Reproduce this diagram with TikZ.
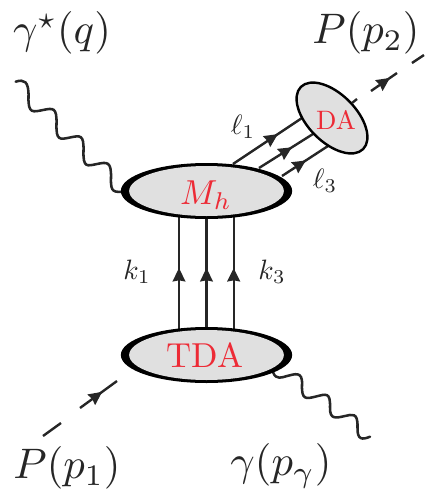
\documentclass[tikz,border=0pt]{standalone}
\usetikzlibrary{shapes.geometric,arrows.meta,decorations.markings}
\definecolor{ink}{HTML}{262626}
\definecolor{blobfill}{HTML}{E0E0E0}
\definecolor{blobtext}{HTML}{ED2B36}
\tikzset{
  line/.style={ink,line width=1.8pt},
  midarrow/.style={line,postaction={decorate},decoration={markings,mark=at position #1 with {\arrow[ink]{Stealth[length=10pt,width=9.5pt,inset=0.8pt]}}}},
  wavy/.style={ink,line width=1.9pt,line cap=round},
  outerblob/.style={ellipse,fill=black,draw=none,minimum width=128.5pt,minimum height=42pt,inner sep=0pt},
  innerblob/.style={ellipse,fill=blobfill,draw=none,minimum width=116pt,minimum height=37.5pt,inner sep=0pt},
  big/.style={ink,scale=3.2,inner sep=0pt},
  small/.style={ink,scale=2.1,inner sep=0pt},
  blobtxt/.style={text=blobtext,scale=2.6,inner sep=0pt}
}
\begin{document}
\begin{tikzpicture}[x=0.75pt,y=-0.75pt]
\useasboundingbox (0,0) rectangle (427,494);
% wavy photons
\coordinate (wa) at (15.7,81.7);
\coordinate (wb) at (370,436.7);
\coordinate (wc) at (124,191.7);
\coordinate (wd) at (273.3,372.7);
\draw[wavy] (wa) .. controls (24,79) and (29,81) .. (28.5,97)
  .. controls (28,114) and (33,112) .. (43,110)
  .. controls (53,108) and (57,107) .. (56.5,124)
  .. controls (56,141) and (60,139.5) .. (70,137.5)
  .. controls (80,135.5) and (84,134) .. (83.5,151)
  .. controls (83,168) and (87,166) .. (97,164)
  .. controls (107,162) and (111.5,161) .. (111,178)
  .. controls (110.5,193) and (114,192) .. (wc);
\draw[wavy] (wd) .. controls (276,380) and (282,377.5) .. (287,376)
  .. controls (294,374.5) and (303,370) .. (302,385)
  .. controls (301.5,400) and (306,399) .. (316,396.5)
  .. controls (326,394) and (330.5,392) .. (330,407)
  .. controls (329.5,420) and (336,418) .. (345,416)
  .. controls (352,414.5) and (358,412) .. (357.5,427)
  .. controls (357,440) and (362,440) .. (wb);
% quark lines (drawn before the blobs)
\coordinate (m1) at (179,200); \coordinate (t1) at (179,340);
\coordinate (m2) at (206.5,200); \coordinate (t2) at (206.5,340);
\coordinate (m3) at (233.7,200); \coordinate (t3) at (233.7,340);
\draw[midarrow=0.514] (t1) -- (m1);
\draw[midarrow=0.514] (t2) -- (m2);
\draw[midarrow=0.514] (t3) -- (m3);
\coordinate (l1a) at (233,164); \coordinate (l1b) at (302,118);
\coordinate (l2a) at (259,168); \coordinate (l2b) at (313,134);
\coordinate (l3a) at (282,176); \coordinate (l3b) at (328,146);
\draw[midarrow=0.65] (l1a) -- (l1b);
\draw[midarrow=0.61] (l2a) -- (l2b);
\draw[midarrow=0.52] (l3a) -- (l3b);
% blobs
\node[outerblob] (mhout) at (206.5,191) {};
\node[innerblob] (mh) at (206.5,191) {};
\node[blobtxt] (mhlabel) at (206,195) {$M_h$};
\node[outerblob] (tdaout) at (206.5,355) {};
\node[innerblob] (tda) at (206.5,355) {};
\node[blobtxt] (tdalabel) at (205,355) {TDA};
\node[ellipse,fill=blobfill,draw=black,line width=1.8pt,minimum width=66pt,minimum height=36pt,inner sep=0pt,rotate=-45] (da) at (332,118) {};
\node[text=blobtext,scale=2.0,inner sep=0pt] (dalabel) at (336,120) {DA};
% meson lines
\coordinate (p2a) at (352,103); \coordinate (p2b) at (357,99);
\coordinate (p2c) at (371,91); \coordinate (p2d) at (397,73);
\coordinate (p2e) at (412,63); \coordinate (p2f) at (424,55);
\draw[line] (p2a) -- (p2b);
\draw[midarrow=0.73] (p2c) -- (p2d);
\draw[line] (p2e) -- (p2f);
\coordinate (p1a) at (43,436); \coordinate (p1b) at (61,423);
\coordinate (p1c) at (80,408); \coordinate (p1d) at (117,381);
\draw[line] (p1a) -- (p1b);
\draw[midarrow=0.6] (p1c) -- (p1d);
% labels
\node[big] (lgs) at (62,33) {$\gamma^\star(q)$};
\node[big] (lp2) at (366,33) {$P(p_2)$};
\node[big] (lp1) at (67,468) {$P(p_1)$};
\node[big] (lgp) at (281,466) {$\gamma(p_\gamma)$};
\node[small] (lk1) at (137,272) {$k_1$};
\node[small] (lk3) at (272,272) {$k_3$};
\node[small] (ll1) at (243,127) {$\ell_1$};
\node[small] (ll3) at (325,181) {$\ell_3$};
\end{tikzpicture}
\end{document}
